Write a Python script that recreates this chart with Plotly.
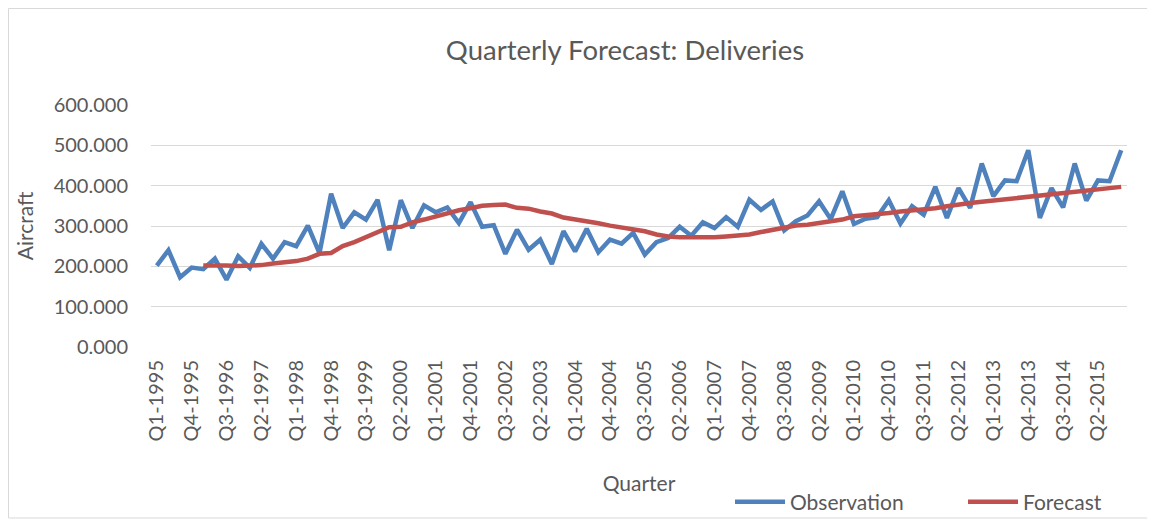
import plotly.graph_objects as go

# quarters Q1-1995 .. Q4-2015
quarters = [f"Q{q}-{y}" for y in range(1995, 2016) for q in range(1, 5)]

observation = [
    202, 240, 173, 197, 193, 219, 167, 225, 196, 256,
    219, 260, 250, 301, 233, 380, 295, 334, 316, 365,
    240, 364, 295, 351, 334, 346, 307, 359, 298, 302,
    231, 291, 241, 266, 206, 287, 237, 293, 235, 266,
    256, 283, 229, 260, 270, 298, 276, 309, 295, 322,
    298, 365, 340, 361, 289, 312, 326, 361, 317, 386,
    305, 318, 322, 364, 306, 349, 328, 397, 320, 394,
    345, 455, 374, 413, 411, 488, 320, 394, 346, 455,
    363, 413, 411, 488,
]

forecast = [None] * 4 + [
    202, 203, 202, 201, 202, 203, 207, 209, 213, 219,
    231, 233, 250, 260, 272, 283, 297, 298, 309, 316,
    324, 331, 339, 344, 350, 352, 353, 345, 343, 336,
    331, 321, 317, 312, 307, 301, 296, 290, 287, 279,
    274, 272, 272, 270, 272, 274, 276, 279, 285, 291,
    297, 301, 303, 307, 313, 316, 324, 326, 328, 332,
    336, 338, 340, 344, 349, 354, 357, 360, 363, 366,
    369, 372, 375, 379, 381, 384, 387, 390, 394, 397,
]

tick_labels = quarters[::3]

FONT = "Lato"
GREY = "#595959"

fig = go.Figure()
fig.add_trace(go.Scatter(x=quarters, y=observation, mode="lines", name="Observation",
                         line=dict(color="#4F81BD", width=4.5)))
fig.add_trace(go.Scatter(x=quarters, y=forecast, mode="lines", name="Forecast",
                         line=dict(color="#C0504D", width=4.5)))

# page body has an 8px margin, so the figure is laid out 8px smaller
W, H = 1147, 513
L, R, T, B = 143, 28, 97, 174
pw, ph = W - L - R, H - T - B

fig.update_layout(
    width=W, height=H,
    margin=dict(l=L, r=R, t=T, b=B, autoexpand=False),
    paper_bgcolor="white", plot_bgcolor="white",
    font=dict(family=FONT, color=GREY, size=19),
    title=dict(text="Quarterly Forecast: Deliveries", xref="container",
               x=617 / W, xanchor="center",
               y=1 - 42 / H, yanchor="middle", font=dict(size=27.5, color=GREY)),
    xaxis=dict(type="category", range=[-0.5, len(quarters) - 0.5], automargin=False,
               tickmode="array", tickvals=tick_labels, ticktext=tick_labels,
               tickangle=-90, showgrid=False, zeroline=False, showline=False,
               ticks="", tickfont=dict(size=20), ticklabelstandoff=8,
               title=dict(text="Quarter", font=dict(size=21), standoff=35)),
    yaxis=dict(range=[0, 600], dtick=100, tickformat=".3f", automargin=False,
               gridcolor="#D9D9D9", gridwidth=1, zeroline=False, showline=False,
               ticks="", tickfont=dict(size=20), ticklabelstandoff=22,
               title=dict(text="Aircraft", font=dict(size=21), standoff=14)),
    legend=dict(orientation="h", x=(722 - L) / pw, xanchor="left",
                y=(339 - 494) / ph, yanchor="middle",
                font=dict(size=21), entrywidth=168, itemwidth=50,
                bgcolor="rgba(0,0,0,0)"),
    shapes=[dict(type="rect", xref="paper", yref="paper",
                 x0=(0.5 - L) / pw, x1=(1144 - L) / pw,
                 y0=(339 - 510) / ph, y1=(339 - 0.5) / ph,
                 line=dict(color="#D9D9D9", width=1), layer="below")],
)

fig.write_html("out.html")
